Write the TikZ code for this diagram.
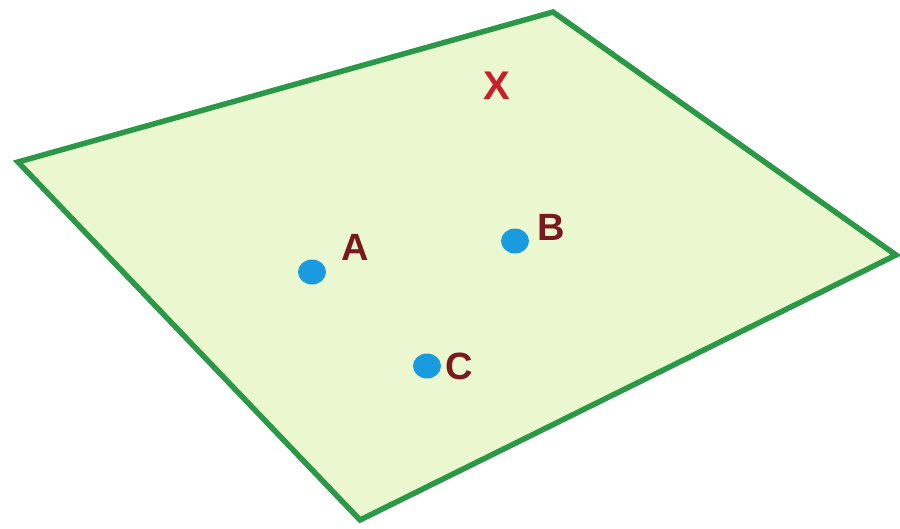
\documentclass[tikz,border=0pt]{standalone}
\usepackage{fontspec}
\setmainfont{Liberation Sans}
\usetikzlibrary{shapes.geometric}
\definecolor{planefill}{HTML}{EAF7CF}
\definecolor{planeedge}{HTML}{2A9846}
\definecolor{dotblue}{HTML}{1A9BE0}
\definecolor{lblred}{HTML}{7A1A1E}
\definecolor{xred}{HTML}{C8202A}
\begin{document}
\begin{tikzpicture}[x=1pt,y=-1pt,
  plane/.style={fill=planefill,draw=planeedge,line width=5.5pt,line join=miter},
  pt/.style={fill=dotblue,draw=none,ellipse,minimum width=28pt,minimum height=25pt,inner sep=0pt},
  lbl/.style={text=lblred,font=\fontsize{38}{38}\selectfont\bfseries,inner sep=0pt},
  xlbl/.style={text=xred,font=\fontsize{40}{40}\selectfont\bfseries,inner sep=0pt}]
\useasboundingbox (0,0) rectangle (900,528);
\fill[white] (0,0) rectangle (900,528);
\coordinate (p1) at (18,162);
\coordinate (p2) at (553,12);
\coordinate (p3) at (896,255);
\coordinate (p4) at (360,520);
\draw[plane] (p1) -- (p2) -- (p3) -- (p4) -- cycle;
\node[pt] (A) at (312,272) {};
\node[pt] (B) at (515,241) {};
\node[pt] (C) at (427,366) {};
\node[lbl] (la) at (355,247) {A};
\node[lbl] (lb) at (551,227) {B};
\node[lbl] (lc) at (459,366) {C};
\node[xlbl] (x) at (497,86) {X};
\end{tikzpicture}
\end{document}
